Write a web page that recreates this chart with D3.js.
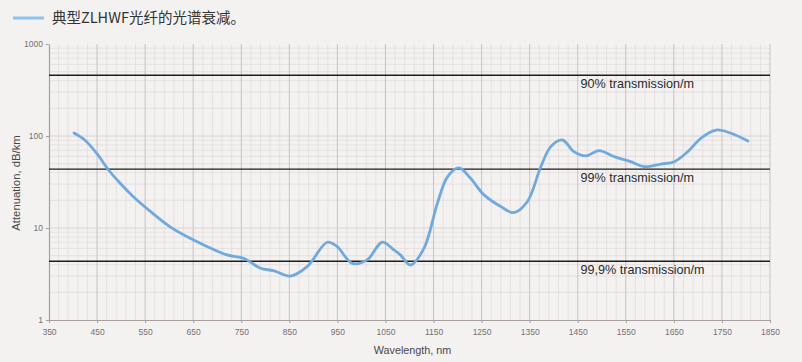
<!DOCTYPE html>
<html>
<head>
<meta charset="utf-8">
<script src="https://cdn.jsdelivr.net/npm/d3@7"></script>
<style>
  body { margin: 0; background: #f3f2f1; }
  svg { display: block; font-family: "Liberation Sans", "DejaVu Sans", sans-serif; }
</style>
</head>
<body>
<div id="chart"></div>
<script>
// spectral attenuation
const wavelength = [402, 425, 449, 474, 498, 525, 553, 602, 651, 720, 755, 790, 817, 852, 887, 929, 949, 981, 1012, 1043, 1067, 1081, 1102, 1130, 1158, 1179, 1203, 1227, 1255, 1290, 1317, 1345, 1373, 1394, 1418, 1442, 1467, 1494, 1526, 1560, 1588, 1623, 1651, 1679, 1706, 1738, 1769, 1804];
const attenuation = [108, 90, 65, 42.7, 30.6, 22, 16.4, 10.3, 7.4, 5.1, 4.69, 3.65, 3.44, 3.0, 3.8, 7.0, 6.3, 4.13, 4.5, 7.0, 5.8, 5.1, 3.96, 6.0, 18.5, 36, 45, 34.7, 22.9, 17.1, 14.7, 19.3, 46, 76.6, 90.5, 67.6, 60.7, 69.3, 59.6, 52.6, 46.5, 49.6, 52.6, 67.6, 94.4, 116, 107, 88];

// reference levels (dB/km)
const refLevels = [457.6, 43.6, 4.345];
const refLabels = ['90% transmission/m', '99% transmission/m', '99,9% transmission/m'];

const xTicks = d3.range(350, 1851, 100);
const yTicks = [1, 10, 100, 1000];

const width = 802, height = 362;
const margin = {top: 44, right: 32, bottom: 42, left: 49};

const svg = d3.select('#chart').append('svg')
  .attr('width', width)
  .attr('height', height);

svg.append('rect').attr('width', width).attr('height', height).attr('fill', '#f3f2f1');

const x = d3.scaleLinear().domain([350, 1850]).range([margin.left, width - margin.right]);
const y = d3.scaleLog().domain([1, 1000]).range([height - margin.bottom, margin.top]);

// grid
const grid = svg.append('g');
grid.selectAll('line.minor-x')
  .data(d3.range(350, 1851, 20).filter(d => (d - 350) % 100 !== 0))
  .enter().append('line')
  .attr('x1', d => x(d)).attr('x2', d => x(d))
  .attr('y1', y(1000)).attr('y2', y(1))
  .attr('stroke', '#e0dada').attr('stroke-width', 0.7);

const minorY = [];
[1, 10, 100].forEach(dec => { for (let k = 2; k <= 9; k++) minorY.push(dec * k); });
grid.selectAll('line.minor-y')
  .data(minorY)
  .enter().append('line')
  .attr('x1', x(350)).attr('x2', x(1850))
  .attr('y1', d => y(d)).attr('y2', d => y(d))
  .attr('stroke', '#e0dada').attr('stroke-width', 0.7);

grid.selectAll('line.major-x')
  .data(xTicks.slice(1))
  .enter().append('line')
  .attr('x1', d => x(d)).attr('x2', d => x(d))
  .attr('y1', y(1000)).attr('y2', y(1))
  .attr('stroke', '#c4bcbc').attr('stroke-width', 0.9);

grid.selectAll('line.major-y')
  .data(yTicks.slice(1, 3))
  .enter().append('line')
  .attr('x1', x(350)).attr('x2', x(1850))
  .attr('y1', d => y(d)).attr('y2', d => y(d))
  .attr('stroke', '#d6cfcf').attr('stroke-width', 0.9);

// axes
const xAxis = svg.append('g')
  .attr('transform', `translate(0,${y(1)})`)
  .call(d3.axisBottom(x).tickValues(xTicks).tickFormat(d3.format('d')).tickSize(3).tickSizeOuter(0).tickPadding(6));
const yAxis = svg.append('g')
  .attr('transform', `translate(${x(350)},0)`)
  .call(d3.axisLeft(y).tickValues(yTicks).tickFormat(d3.format('d')).tickSize(3).tickSizeOuter(0).tickPadding(3));
[xAxis, yAxis].forEach(a => {
  a.select('.domain').attr('stroke', '#a89e9e').attr('stroke-width', 1.2);
  a.selectAll('.tick line').attr('stroke', '#a89e9e');
  a.selectAll('.tick text').attr('fill', '#757070').style('font-size', '8.5px');
});

// reference lines
svg.selectAll('line.ref')
  .data(refLevels)
  .enter().append('line')
  .attr('x1', x(350)).attr('x2', x(1850))
  .attr('y1', d => y(d)).attr('y2', d => y(d))
  .attr('stroke', '#1c1c1c').attr('stroke-width', 1.4);

svg.selectAll('text.ref')
  .data(refLevels)
  .enter().append('text')
  .attr('x', x(1456))
  .attr('y', d => y(d) + 13)
  .attr('fill', '#2a2a2a')
  .style('font-size', '12.6px')
  .text((d, i) => refLabels[i]);

// curve
const pts = wavelength.map((w, i) => [w, attenuation[i]]);
svg.append('path')
  .datum(pts)
  .attr('fill', 'none')
  .attr('stroke', '#72a9dc')
  .attr('stroke-width', 2.8)
  .attr('stroke-linecap', 'round')
  .attr('d', d3.line().x(d => x(d[0])).y(d => y(d[1])).curve(d3.curveCatmullRom.alpha(0.5)));

// axis titles
svg.append('text')
  .attr('x', x(1100) + 3).attr('y', 354)
  .attr('text-anchor', 'middle')
  .attr('fill', '#4a4646')
  .style('font-size', '10.8px')
  .text('Wavelength, nm');

svg.append('text')
  .attr('transform', `translate(20,183) rotate(-90)`)
  .attr('text-anchor', 'middle')
  .attr('fill', '#4a4646')
  .style('font-size', '11.3px')
  .text('Attenuation, dB/km');

// legend
svg.append('line')
  .attr('x1', 13).attr('x2', 44).attr('y1', 18).attr('y2', 18)
  .attr('stroke', '#8cc3ee').attr('stroke-width', 3);
svg.append('text')
  .attr('x', 52).attr('y', 23)
  .attr('fill', '#333')
  .style('font-family', '"Noto Sans CJK SC", sans-serif')
  .style('font-size', '14.5px')
  .text('典型ZLHWF光纤的光谱衰减。');
</script>
</body>
</html>
